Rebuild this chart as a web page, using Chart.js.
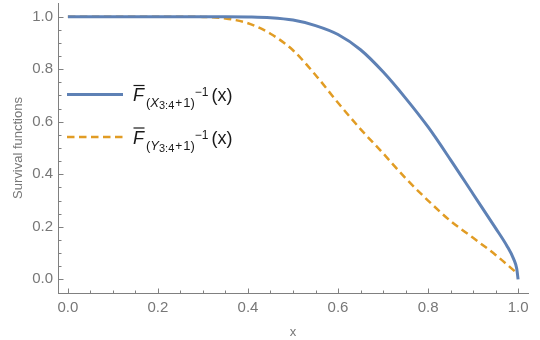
<!DOCTYPE html>
<html>
<head>
<meta charset="utf-8">
<script src="https://cdn.jsdelivr.net/npm/chart.js@4.4.1/dist/chart.umd.min.js"></script>
<style>
  html, body { margin: 0; padding: 0; background: #fff; }
  #chart { display: block; }
</style>
</head>
<body>
<canvas id="chart" width="540" height="340"></canvas>
<script>
// data
const blueX = [0, 0.1, 0.2, 0.3, 0.35, 0.4, 0.45, 0.5, 0.55, 0.6, 0.65, 0.7, 0.75, 0.8, 0.85, 0.9, 0.95, 0.975, 0.99, 0.997, 1.0];
const blueY = [1, 1, 1, 1, 1, 0.999, 0.996, 0.987, 0.966, 0.932, 0.874, 0.79, 0.69, 0.58, 0.455, 0.325, 0.195, 0.128, 0.078, 0.04, 0.0];
const orangeX = [0, 0.1, 0.2, 0.3, 0.35, 0.4, 0.45, 0.5, 0.55, 0.6, 0.65, 0.7, 0.75, 0.8, 0.85, 0.9, 0.95, 1.0];
const orangeY = [1, 1, 1, 0.999, 0.993, 0.975, 0.935, 0.872, 0.778, 0.672, 0.572, 0.48, 0.385, 0.3, 0.222, 0.158, 0.093, 0.02];
const seriesLetters = ['X', 'Y'];
const xTicks = [0, 0.2, 0.4, 0.6, 0.8, 1.0];
const yTicks = [0, 0.2, 0.4, 0.6, 0.8, 1.0];
const xTitle = 'x';
const yTitle = 'Survival functions';

const BLUE = '#5e81b5';
const ORANGE = '#e19c24';
const AXIS = '#808080';
const LABEL = '#777777';
const FONT = 'Liberation Sans, Arial, sans-serif';

const toPoints = (xs, ys) => xs.map((x, i) => ({ x: x, y: ys[i] }));

// Mathematica-style inward ticks, majors plus 3 minors between
const innerTicks = {
  id: 'innerTicks',
  afterDraw(chart) {
    const { ctx, chartArea, scales } = chart;
    ctx.save();
    ctx.strokeStyle = AXIS;
    ctx.lineWidth = 1;
    const minorOf = ticks => {
      const out = [];
      for (let i = 0; i < ticks.length - 1; i++) {
        const step = (ticks[i + 1] - ticks[i]) / 4;
        for (let k = 1; k < 4; k++) out.push(ticks[i] + step * k);
      }
      return out;
    };
    const bottom = chartArea.bottom + 0.5;
    const left = chartArea.left + 0.5;
    const tickX = (v, len) => {
      const px = Math.round(scales.x.getPixelForValue(v)) + 0.5;
      ctx.beginPath(); ctx.moveTo(px, bottom); ctx.lineTo(px, bottom - len); ctx.stroke();
    };
    const tickY = (v, len) => {
      const py = Math.round(scales.y.getPixelForValue(v)) + 0.5;
      ctx.beginPath(); ctx.moveTo(left, py); ctx.lineTo(left + len, py); ctx.stroke();
    };
    xTicks.forEach(v => tickX(v, 5));
    minorOf(xTicks).forEach(v => tickX(v, 3));
    yTicks.forEach(v => tickY(v, 5));
    minorOf(yTicks).forEach(v => tickY(v, 3));
    ctx.restore();
  }
};

// legend with the overlined F and nested sub/superscripts
function drawFormula(ctx, x, base, letter) {
  const parts = [
    { t: 'F', f: 'italic 18px', dy: 0, gap: 2 },
    { t: '(', f: '13px', dy: 6, gap: 0 },
    { t: letter, f: 'italic 13px', dy: 6, gap: 0 },
    { t: '3:4', f: '11px', dy: 8, gap: 1 },
    { t: '+', f: '12px', dy: 6, gap: 1 },
    { t: '1)', f: '13px', dy: 6, gap: 0 },
    { t: '\u22121', f: '12px', dy: -5, gap: 3 },
    { t: '(x)', f: '18px', dy: 0, gap: 0 }
  ];
  ctx.fillStyle = '#1a1a1a';
  ctx.textBaseline = 'alphabetic';
  ctx.textAlign = 'left';
  let cx = x;
  parts.forEach((p, i) => {
    ctx.font = p.f + ' ' + FONT;
    const w = ctx.measureText(p.t).width;
    ctx.fillText(p.t, cx, base + p.dy);
    if (i === 0) {
      ctx.strokeStyle = '#1a1a1a';
      ctx.lineWidth = 1.2;
      ctx.beginPath();
      ctx.moveTo(cx + 0.5, base - 15.5);
      ctx.lineTo(cx + w + 0.5, base - 15.5);
      ctx.stroke();
    }
    cx += w + p.gap;
  });
}

const formulaLegend = {
  id: 'formulaLegend',
  afterDraw(chart) {
    const ctx = chart.ctx;
    const rows = [
      { lineY: 94.5, base: 101, color: BLUE, dash: [], width: 3 },
      { lineY: 137, base: 143.5, color: ORANGE, dash: [7.5, 4.5], width: 2.5 }
    ];
    ctx.save();
    rows.forEach((r, i) => {
      ctx.strokeStyle = r.color;
      ctx.lineWidth = r.width;
      ctx.setLineDash(r.dash);
      ctx.beginPath();
      ctx.moveTo(67, r.lineY);
      ctx.lineTo(123, r.lineY);
      ctx.stroke();
      ctx.setLineDash([]);
      drawFormula(ctx, 133, r.base, seriesLetters[i]);
    });
    ctx.restore();
  }
};

new Chart(document.getElementById('chart').getContext('2d'), {
  type: 'scatter',
  data: {
    datasets: [
      {
        data: toPoints(blueX, blueY),
        showLine: true,
        borderColor: BLUE,
        borderWidth: 3,
        pointRadius: 0,
        cubicInterpolationMode: 'monotone'
      },
      {
        data: toPoints(orangeX, orangeY),
        showLine: true,
        borderColor: ORANGE,
        borderWidth: 2.5,
        borderDash: [7.5, 4.5],
        pointRadius: 0,
        cubicInterpolationMode: 'monotone'
      }
    ]
  },
  options: {
    responsive: false,
    animation: false,
    devicePixelRatio: 1,
    layout: { padding: { top: 3, right: 12, left: 0, bottom: 0 } },
    plugins: { legend: { display: false }, tooltip: { enabled: false } },
    scales: {
      x: {
        type: 'linear',
        min: -0.022,
        max: 1.022,
        afterBuildTicks: s => { s.ticks = xTicks.map(v => ({ value: v })); },
        afterFit: s => { s.height = 47; s.paddingLeft = 0; s.paddingRight = 0; },
        grid: { display: false, drawTicks: false },
        border: { display: true, color: AXIS, width: 1 },
        ticks: {
          autoSkip: false,
          maxRotation: 0,
          padding: 6,
          color: LABEL,
          font: { family: FONT, size: 15 },
          callback: v => v.toFixed(1)
        },
        title: {
          display: true,
          text: xTitle,
          color: LABEL,
          font: { family: FONT, size: 13 },
          padding: { top: 0, bottom: 0 }
        }
      },
      y: {
        type: 'linear',
        min: -0.052,
        max: 1.052,
        afterBuildTicks: s => { s.ticks = yTicks.map(v => ({ value: v })); },
        afterFit: s => { s.width = 58; s.paddingTop = 0; s.paddingBottom = 0; },
        grid: { display: false, drawTicks: false },
        border: { display: true, color: AXIS, width: 1 },
        ticks: {
          autoSkip: false,
          padding: 5,
          color: LABEL,
          font: { family: FONT, size: 15 },
          callback: v => v.toFixed(1)
        },
        title: {
          display: true,
          text: yTitle,
          color: LABEL,
          font: { family: FONT, size: 13 },
          padding: { top: 11, bottom: 0 }
        }
      }
    }
  },
  plugins: [innerTicks, formulaLegend]
});
</script>
</body>
</html>
